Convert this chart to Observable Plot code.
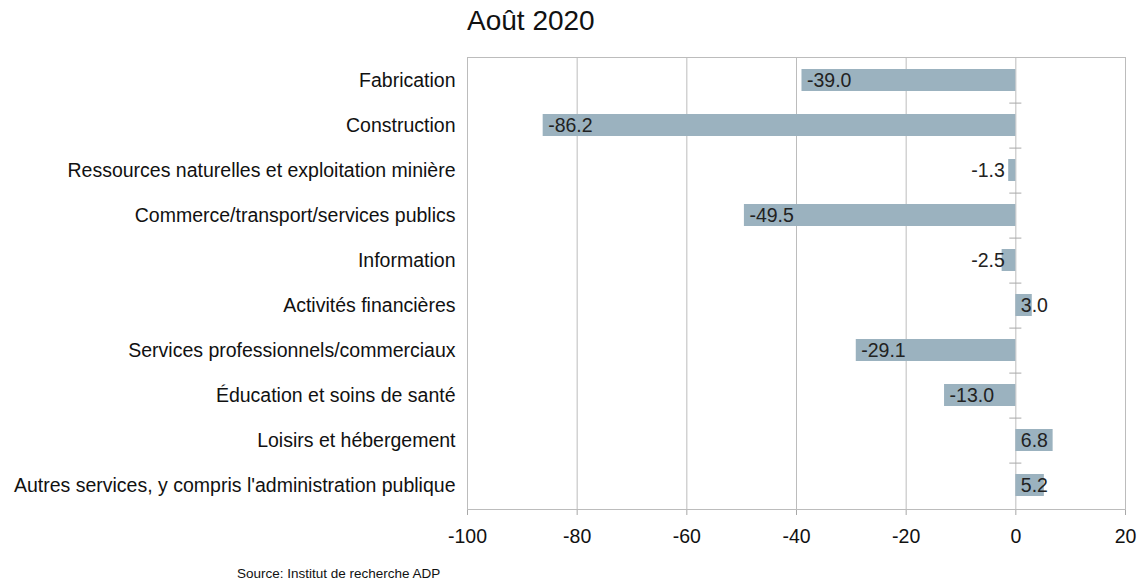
<!DOCTYPE html>
<html>
<head>
<meta charset="utf-8">
<script src="https://cdn.jsdelivr.net/npm/d3@7"></script>
<script src="https://cdn.jsdelivr.net/npm/@observablehq/plot@0.6"></script>
<style>
  html, body { margin: 0; padding: 0; background: #fff; }
  #wrap { position: relative; width: 1139px; height: 584px; font-family: "Liberation Sans", Arial, sans-serif; }
  #title { position: absolute; left: 467px; top: 5px; font-size: 28px; color: #111; }
  #caption { position: absolute; left: 237px; top: 566px; font-size: 13.5px; color: #111; }
  #chart { position: absolute; left: 0; top: 0; }
</style>
</head>
<body>
<div id="wrap">
  <div id="chart"></div>
  <div id="title">Août 2020</div>
  <div id="caption">Source: Institut de recherche ADP</div>
</div>
<script>
const categories = [
  "Fabrication",
  "Construction",
  "Ressources naturelles et exploitation minière",
  "Commerce/transport/services publics",
  "Information",
  "Activités financières",
  "Services professionnels/commerciaux",
  "Éducation et soins de santé",
  "Loisirs et hébergement",
  "Autres services, y compris l'administration publique"
];
const values = [-39.0, -86.2, -1.3, -49.5, -2.5, 3.0, -29.1, -13.0, 6.8, 5.2];
const xTicks = [-100, -80, -60, -40, -20, 0, 20];

const data = categories.map((c, i) => ({category: c, value: values[i]}));
const small = d => d.value < 0 && d.value > -5;

const gridColor = "#bcbcbc";
const barColor = "#9bb2bf";
const fontPx = 19.5;

const chart = Plot.plot({
  width: 1139,
  height: 584,
  marginLeft: 467,
  marginRight: 14,
  marginTop: 57,
  marginBottom: 75,
  style: {fontFamily: "'Liberation Sans', Arial, sans-serif", fontSize: fontPx + "px", color: "#111", background: "transparent"},
  x: {domain: [-100, 20], ticks: xTicks, label: null},
  y: {domain: categories, paddingInner: 0.51, paddingOuter: 0.255, label: null},
  marks: [
    Plot.ruleX(xTicks, {stroke: gridColor, strokeWidth: 1}),
    Plot.barX(data, {x: "value", y: "category", fill: barColor}),
    Plot.ruleY(categories.slice(0, -1), {y: d => d, x1: -1.1, x2: 1.1, dy: 22.6, stroke: "#a8a8a8"}),
    Plot.text(data, {
      x: d => d.value >= 0 ? 0 : d.value,
      y: "category",
      text: d => d.value.toFixed(1),
      textAnchor: "start",
      dx: 5,
      fontSize: fontPx,
      fill: "#222",
      filter: d => !small(d)
    }),
    Plot.text(data, {
      x: 0,
      y: "category",
      text: d => d.value.toFixed(1),
      textAnchor: "end",
      dx: -11,
      fontSize: fontPx,
      fill: "#222",
      filter: small
    }),
    Plot.axisX({ticks: xTicks, tickSize: 6, text: null, stroke: "#a8a8a8"}),
    Plot.axisX({ticks: xTicks, tickSize: 0, tickPadding: 20, fontSize: fontPx, fill: "#111", tickFormat: d => String(d)}),
    Plot.axisY({tickSize: 0, tickPadding: 12, fontSize: fontPx, fill: "#111"}),
    Plot.frame({stroke: gridColor})
  ]
});
document.getElementById("chart").appendChild(chart);
</script>
</body>
</html>
